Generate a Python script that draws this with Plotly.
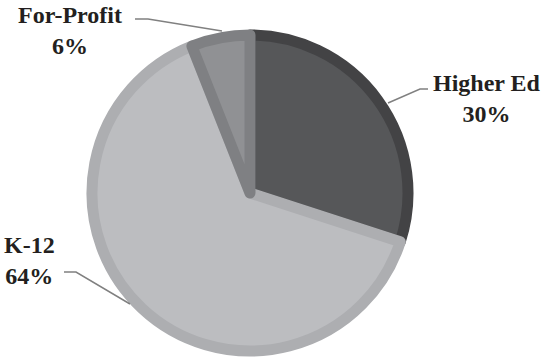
import plotly.graph_objects as go

# ---- data ----
labels = ["Higher Ed", "K-12", "For-Profit"]
values = [30, 64, 6]
fill_colors = ["#565759", "#bcbdc0", "#909194"]
border_colors = ["#434345", "#adaeb1", "#7f8083"]

W, H = 543, 358

def px(x):
    return x / W

def py(y):
    return 1 - y / H

# pie geometry (pixels): center and radius of the path (stroke adds half width outside)
cx, cy, r = 250, 193, 158
stroke = 11

fig = go.Figure()
fig.add_trace(go.Pie(
    labels=labels,
    values=values,
    sort=False,
    direction="clockwise",
    rotation=0,
    textinfo="none",
    hoverinfo="label+percent",
    marker=dict(colors=fill_colors, line=dict(color=border_colors, width=stroke)),
    domain=dict(x=[px(cx - r), px(cx + r)], y=[py(cy + r), py(cy - r)]),
    showlegend=False,
))

# label placement (styling)
label_pos = {
    "Higher Ed": (487, 98),
    "K-12": (29, 260),
    "For-Profit": (70, 31),
}
leader_paths = {
    "Higher Ed": [(388, 103), (420, 89), (428, 89)],
    "K-12": [(64, 272), (76, 272), (130, 304)],
    "For-Profit": [(135, 19), (148, 19), (222, 31)],
}

total = sum(values)
annotations = []
shapes = []
for lab, val in zip(labels, values):
    x, y = label_pos[lab]
    annotations.append(dict(
        text=f"<b>{lab}</b><br><b>{round(100 * val / total)}%</b>",
        x=px(x), y=py(y), xref="paper", yref="paper",
        xanchor="center", yanchor="middle", showarrow=False,
        font=dict(family="Liberation Serif", size=24, color="#231f20"),
        align="center",
    ))
    pts = leader_paths[lab]
    path = "M " + " L ".join(f"{px(a)},{py(b)}" for a, b in pts)
    shapes.append(dict(type="path", path=path, xref="paper", yref="paper",
                       line=dict(color="#808080", width=1.5)))

fig.update_layout(
    width=W, height=H,
    margin=dict(l=0, r=0, t=0, b=0),
    paper_bgcolor="white",
    plot_bgcolor="white",
    annotations=annotations,
    shapes=shapes,
)

fig.write_html("out.html")
